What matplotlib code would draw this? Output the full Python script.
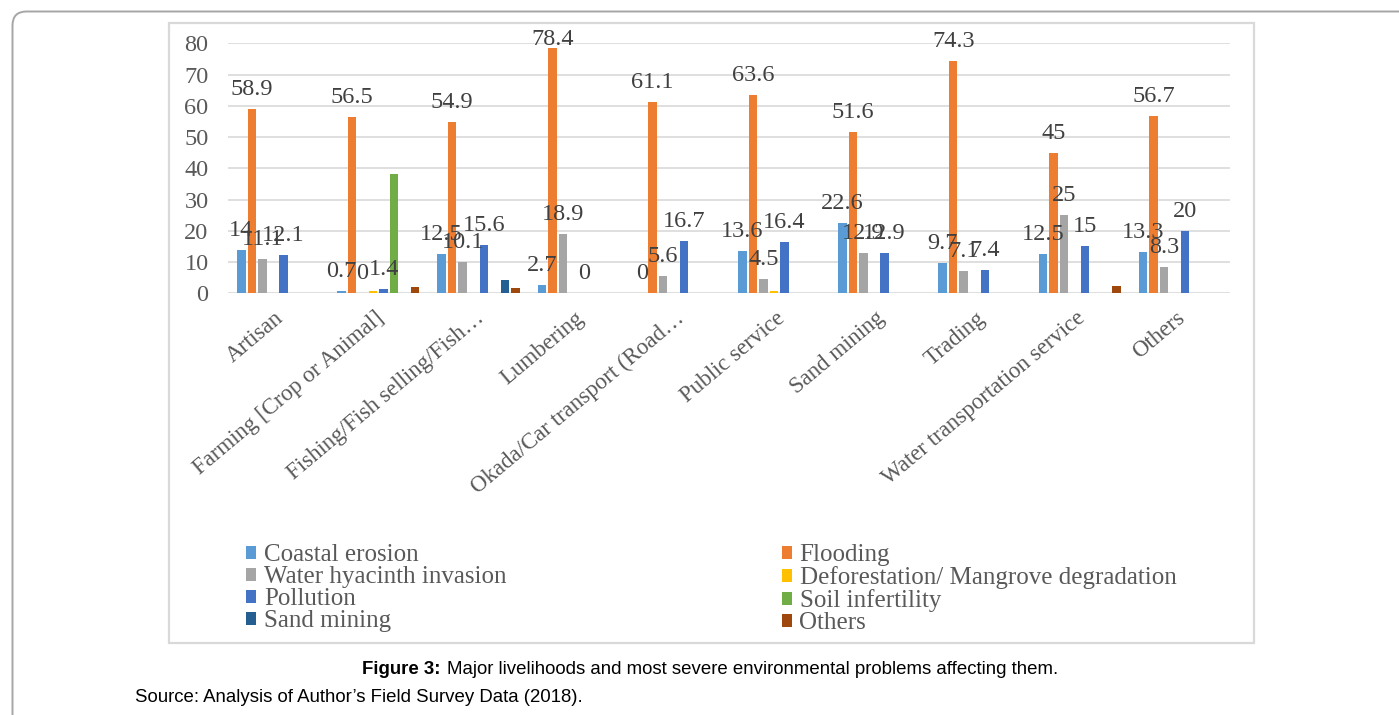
import numpy as np
import matplotlib.pyplot as plt
from matplotlib.patches import FancyBboxPatch, Rectangle, Patch
from matplotlib.transforms import ScaledTranslation

# ---- data -------------------------------------------------------------
categories = [
    "Artisan",
    "Farming [Crop or Animal]",
    "Fishing/Fish selling/Fish\u2026",
    "Lumbering",
    "Okada/Car transport (Road\u2026",
    "Public service",
    "Sand mining",
    "Trading",
    "Water transportation service",
    "Others",
]

nan = np.nan
coastal_erosion = [14, 0.7, 12.5, 2.7, 0, 13.6, 22.6, 9.7, 12.5, 13.3]
flooding = [58.9, 56.5, 54.9, 78.4, 61.1, 63.6, 51.6, 74.3, 45, 56.7]
water_hyacinth = [11.1, 0, 10.1, 18.9, 5.6, 4.5, 12.9, 7.1, 25, 8.3]
deforestation = [nan, 0.7, nan, nan, nan, 0.6, nan, nan, nan, nan]
pollution = [12.1, 1.4, 15.6, 0, 16.7, 16.4, 12.9, 7.4, 15, 20]
soil_infertility = [nan, 38.3, nan, nan, nan, nan, nan, nan, nan, nan]
sand_mining = [nan, nan, 4.4, nan, nan, nan, nan, nan, nan, nan]
others = [nan, 2.1, 1.8, nan, nan, nan, nan, nan, 2.3, nan]

series_names = [
    "Coastal erosion",
    "Flooding",
    "Water hyacinth invasion",
    "Deforestation/ Mangrove degradation",
    "Pollution",
    "Soil infertility",
    "Sand mining",
    "Others",
]
series_values = [coastal_erosion, flooding, water_hyacinth, deforestation,
                 pollution, soil_infertility, sand_mining, others]
series_colors = ["#5B9BD5", "#ED7D31", "#A5A5A5", "#FFC000",
                 "#4472C4", "#70AD47", "#255E91", "#9E480E"]
labelled_series = {"Coastal erosion", "Flooding", "Water hyacinth invasion", "Pollution"}

y_ticks = [0, 10, 20, 30, 40, 50, 60, 70, 80]

# ---- figure -----------------------------------------------------------
W, H = 1399, 715
DPI = 100
fig = plt.figure(figsize=(W / DPI, H / DPI), dpi=DPI)
fig.patch.set_facecolor("white")

serif = "Liberation Serif"
axis_grey = "#595959"
label_grey = "#404040"
fs = 17.5

# background layer in pixel coordinates (frames)
bg = fig.add_axes([0, 0, 1, 1], zorder=0)
bg.set_xlim(0, W)
bg.set_ylim(H, 0)
bg.axis("off")
bg.add_patch(FancyBboxPatch((12.5, 11.5), W + 60, H + 60,
                            boxstyle="round,pad=0,rounding_size=14",
                            fc="white", ec="#A6A6A6", lw=1.4))
bg.add_patch(Rectangle((168.5, 22.5), 1085, 620, fc="white", ec="#D9D9D9", lw=1.6))

# plot area
left, right, top, bottom = 228, 1230, 43.3, 293.3
ax = fig.add_axes([left / W, 1 - bottom / H, (right - left) / W, (bottom - top) / H], zorder=1)
ax.patch.set_alpha(0)

x = np.arange(len(categories))
pitch, width = 0.105, 0.085
handles = []
value_labels = []
for k, (name, vals, color) in enumerate(zip(series_names, series_values, series_colors)):
    v = np.array(vals, dtype=float)
    mask = ~np.isnan(v)
    pos = x + (k - 3.5) * pitch
    bars = ax.bar(pos[mask], v[mask], width, color=color, zorder=2, linewidth=0)
    handles.append(Patch(facecolor=color, label=name))
    if name in labelled_series:
        value_labels += ax.bar_label(bars, labels=[f"{val:g}" for val in v[mask]], padding=6.5,
                                     fontsize=fs, family=serif, color=label_grey, clip_on=False)

ax.set_xlim(-0.5, len(categories) - 0.5)
ax.set_ylim(0, 80)
ax.set_yticks(y_ticks)
ax.set_yticklabels([str(t) for t in y_ticks], family=serif, fontsize=fs, color=axis_grey)
ax.yaxis.grid(True, color="#D9D9D9", lw=1.2, zorder=0)
ax.set_axisbelow(True)
for s in ax.spines.values():
    s.set_visible(False)
ax.tick_params(axis="y", length=0, pad=14)

ax.set_xticks(x)
ax.set_xticklabels(categories, rotation=40, ha="right", va="center",
                   rotation_mode="anchor", family=serif, fontsize=16.5, color=axis_grey)
ax.tick_params(axis="x", length=0, pad=16)
shift = ScaledTranslation(3 / DPI, 0, fig.dpi_scale_trans)
for lbl in ax.get_xticklabels():
    lbl.set_transform(lbl.get_transform() + shift)

# legend: two columns, filled row by row
order = [0, 2, 4, 6, 1, 3, 5, 7]
fig.legend([handles[i] for i in order], [series_names[i] for i in order],
           ncol=2, loc="upper left", bbox_to_anchor=(246 / W, 1 - 544 / H),
           frameon=False, handlelength=0.42, handleheight=0.42, handletextpad=0.3,
           columnspacing=11.0, labelspacing=0.0, borderpad=0, borderaxespad=0,
           prop={"family": serif, "size": 18}, labelcolor=axis_grey)

# caption and source
cap_font = ["Liberation Sans Narrow", "Liberation Sans"]
cap_fs = 13.4
bg.text(362, 669, "Figure 3:", family=cap_font, fontweight="bold", fontsize=cap_fs,
        ha="left", va="center", color="black")
bg.text(447, 669, "Major livelihoods and most severe environmental problems affecting them.",
        family=cap_font, fontsize=cap_fs, ha="left", va="center", color="black")
bg.text(135, 697, "Source: Analysis of Author\u2019s Field Survey Data (2018).",
        family=cap_font, fontsize=cap_fs, ha="left", va="center", color="black")

# keep value labels inside the chart's inner area: push down any label
# that would rise above the top margin
fig.canvas.draw()
renderer = fig.canvas.get_renderer()
top_limit = H - 29  # display coordinates (origin bottom-left)
for ann in value_labels:
    bb = ann.get_window_extent(renderer)
    if bb.y1 > top_limit:
        dy_pts = (bb.y1 - top_limit) * 72 / DPI
        ann.xyann = (ann.xyann[0], ann.xyann[1] - dy_pts)

fig.savefig("out.png", dpi=DPI)
